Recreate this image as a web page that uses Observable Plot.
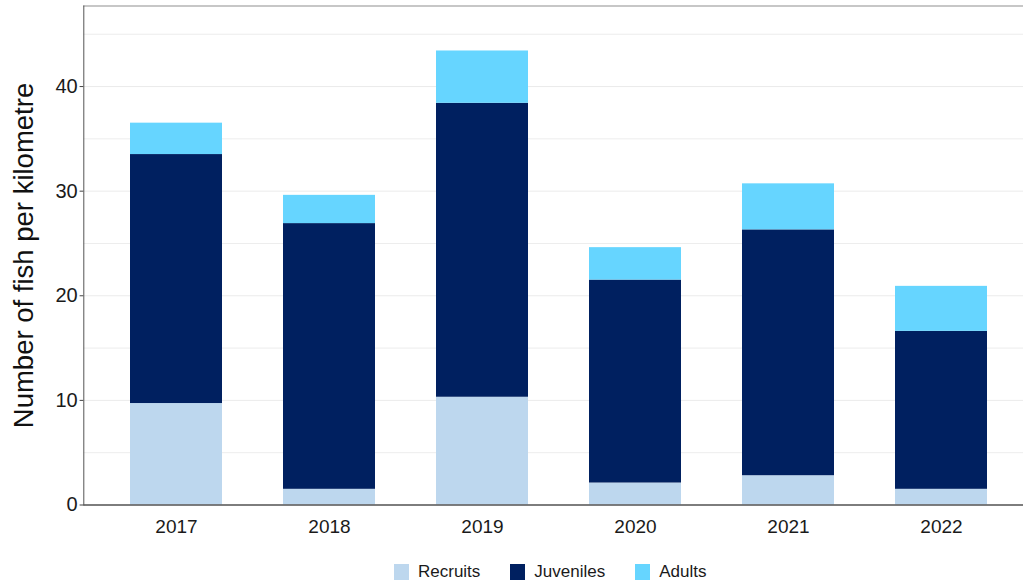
<!DOCTYPE html>
<html><head><meta charset="utf-8">
<script src="https://cdn.jsdelivr.net/npm/d3@7"></script>
<script src="https://cdn.jsdelivr.net/npm/@observablehq/plot@0.6"></script>
<style>
body{margin:0;background:#fff;font-family:"Liberation Sans",Arial,sans-serif;}
#wrap{position:relative;width:1023px;height:585px;overflow:hidden;background:#fff;}
#legend{position:absolute;top:564px;left:394px;display:flex;align-items:center;font-size:17px;color:#1a1a1a;line-height:16px;}
.item{display:flex;align-items:center;margin-right:30px;}
.sw{width:15px;height:16px;margin-right:9px;}
</style></head><body><div id="wrap"></div>
<script>
const years = ["2017","2018","2019","2020","2021","2022"];
const series = ["Recruits","Juveniles","Adults"];
const recruits = [9.7, 1.5, 10.3, 2.1, 2.8, 1.5];
const juveniles = [23.8, 25.4, 28.1, 19.4, 23.5, 15.1];
const adults = [3.0, 2.7, 5.0, 3.1, 4.4, 4.3];
const colors = ["#BDD7EE", "#002060", "#66D5FF"];
const yTicks = [0, 10, 20, 30, 40];
const yMinor = [5, 15, 25, 35, 45];
const yMax = 47.7;
const yLabel = "Number of fish per kilometre";

const data = [];
years.forEach((yr, i) => {
  data.push({year: yr, group: series[0], value: recruits[i]});
  data.push({year: yr, group: series[1], value: juveniles[i]});
  data.push({year: yr, group: series[2], value: adults[i]});
});

const chart = Plot.plot({
  width: 1023, height: 550,
  marginLeft: 83.3, marginTop: 5.5, marginBottom: 45.5, marginRight: 0,
  style: {fontFamily: "'Liberation Sans', Arial, sans-serif", background: "white", color: "#1a1a1a", overflow: "hidden"},
  x: {type: "band", domain: years, range: [83.3, 1032.5], paddingInner: 0.4, paddingOuter: 0.3, label: null},
  y: {domain: [0, yMax], label: null},
  color: {domain: series, range: colors},
  marks: [
    Plot.ruleY(yMinor, {stroke: "#ededed", strokeWidth: 1}),
    Plot.ruleY(yTicks, {stroke: "#ebebeb", strokeWidth: 1}),
    Plot.barY(data, Plot.stackY({x: "year", y: "value", fill: "group"})),
    Plot.ruleY([yMax], {stroke: "#b5b5b5", strokeWidth: 1.5}),
    Plot.frame({anchor: "left", stroke: "#555", strokeWidth: 1}),
    Plot.ruleY([0], {stroke: "#555", strokeWidth: 1.3}),
    Plot.axisY(yTicks, {anchor: "left", tickSize: 3.7, tickPadding: 2.4, fontSize: 20, stroke: "#444", label: null}),
    Plot.axisX({anchor: "bottom", tickSize: 0, tickPadding: 14.5, fontSize: 19, label: null}),
    Plot.text([yLabel], {frameAnchor: "left", dx: -60, rotate: -90, textAnchor: "middle", lineAnchor: "middle", fontSize: 27.5, fill: "#111"})
  ]
});
const wrap = document.getElementById("wrap");
wrap.appendChild(chart);

const legend = document.createElement("div");
legend.id = "legend";
series.forEach((s, i) => {
  const it = document.createElement("div");
  it.className = "item";
  const sw = document.createElement("div");
  sw.className = "sw";
  sw.style.background = colors[i];
  const t = document.createElement("span");
  t.textContent = s;
  it.appendChild(sw); it.appendChild(t);
  legend.appendChild(it);
});
wrap.appendChild(legend);
</script></body></html>
